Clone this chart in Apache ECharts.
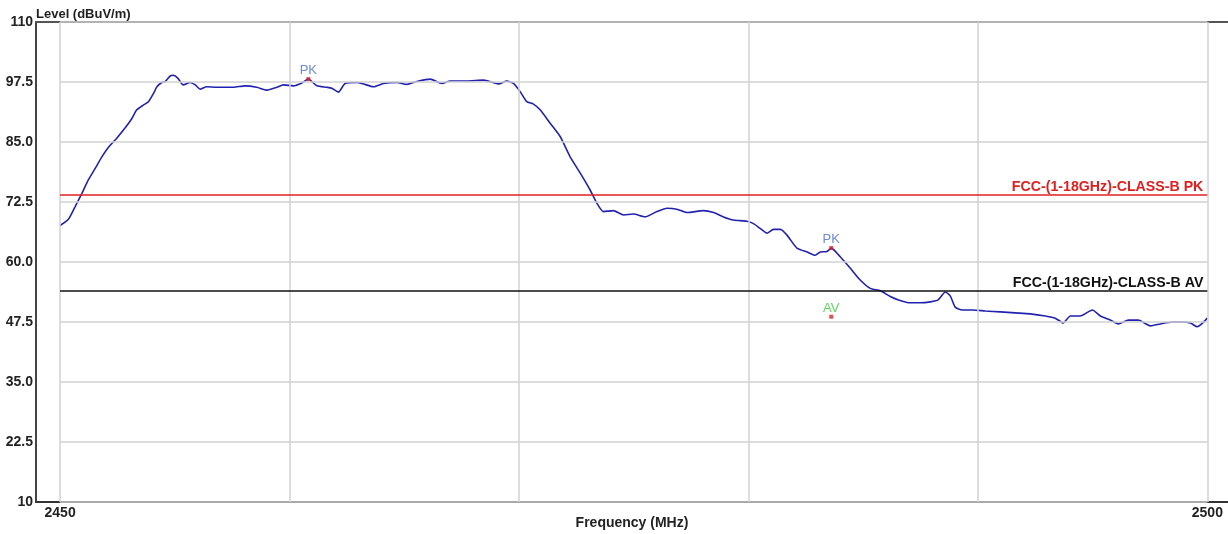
<!DOCTYPE html>
<html>
<head>
<meta charset="utf-8">
<script src="https://cdn.jsdelivr.net/npm/echarts@6/dist/echarts.min.js"></script>
<style>
html,body{margin:0;padding:0;background:#fff;}
#chart{width:1228px;height:534px;}
</style>
</head>
<body>
<div id="chart"></div>
<script>
// ---- data ----
const freqMHz = [2450.0,2450.36,2450.65,2450.95,2451.23,2451.53,2451.82,2452.11,2452.47,2452.83,2453.13,2453.34,2453.63,2453.85,2454.07,2454.22,2454.43,2454.58,2454.80,2454.94,2455.13,2455.37,2455.67,2455.89,2456.10,2456.39,2456.83,2457.55,2458.06,2458.57,2459.01,2459.45,2459.73,2460.17,2460.54,2460.82,2461.19,2461.63,2461.84,2462.13,2462.42,2462.93,2463.22,2463.66,2464.09,2464.68,2465.11,2465.55,2466.13,2466.64,2467.00,2467.73,2468.45,2469.11,2469.47,2469.76,2470.05,2470.34,2470.63,2470.92,2471.36,2471.80,2472.23,2472.67,2473.10,2473.40,2473.68,2474.11,2474.56,2474.99,2475.50,2476.01,2476.45,2476.88,2477.32,2478.04,2478.48,2478.91,2479.35,2479.93,2480.22,2480.51,2480.81,2481.09,2481.39,2481.68,2482.11,2482.55,2482.91,2483.13,2483.42,2483.61,2484.00,2484.44,2484.87,2485.31,2485.75,2486.18,2486.54,2487.05,2487.49,2487.93,2488.27,2488.58,2488.80,2489.01,2489.32,2489.76,2490.32,2490.98,2491.63,2492.28,2492.94,2493.37,2493.72,2494.03,2494.46,2494.99,2495.34,2495.77,2496.12,2496.56,2496.99,2497.52,2497.95,2498.47,2498.89,2499.26,2499.56,2500.0];
const levelDb = [67.6,68.9,71.5,74.3,77.1,79.5,81.9,83.9,85.8,87.9,89.9,91.7,92.7,93.4,95.1,96.5,97.4,97.6,98.75,98.9,98.3,96.9,97.4,96.9,96.0,96.5,96.4,96.4,96.7,96.4,95.8,96.4,96.9,96.7,97.3,98.1,96.7,96.4,96.2,95.4,97.2,97.4,97.1,96.5,97.2,97.4,97.0,97.6,98.1,97.2,97.7,97.7,97.9,97.1,97.7,97.2,95.5,93.4,92.9,91.7,88.9,86.1,81.9,78.5,75.0,72.2,70.5,70.7,69.8,70.0,69.4,70.5,71.2,71.0,70.3,70.7,70.3,69.4,68.75,68.5,68.0,67.0,66.0,66.8,66.8,65.6,62.9,62.1,61.4,62.1,62.2,62.9,61.1,58.7,56.25,54.5,54.0,52.8,52.1,51.5,51.5,51.7,52.1,53.75,52.9,50.6,50.0,50.0,49.8,49.6,49.4,49.2,48.75,48.3,47.3,48.75,48.75,50.0,48.75,47.9,47.1,47.9,47.9,46.7,47.1,47.5,47.5,47.3,46.5,48.3];

const yTicks = [10, 22.5, 35, 47.5, 60, 72.5, 85, 97.5, 110];
const xGridTicks = [2450, 2460, 2470, 2480, 2490, 2500];
const xLabelTicks = [2450, 2500];
const limitRange = [2450, 2500];
const pkLimit = 74;
const avLimit = 54;
const pkLimitName = 'FCC-(1-18GHz)-CLASS-B PK';
const avLimitName = 'FCC-(1-18GHz)-CLASS-B AV';
const pkMarkers = [[2460.82, 98.1], [2483.61, 62.9]];
const avMarkers = [[2483.61, 48.6]];

// ---- chart ----
const FONT = '"Liberation Sans", Arial, sans-serif';
const chart = echarts.init(document.getElementById('chart'), null, {renderer: 'canvas'});

const curve = freqMHz.map((f, i) => [f, levelDb[i]]);
const gridColor = '#d2d2d2';
const gridLines = [];
yTicks.forEach(v => gridLines.push([{coord: [limitRange[0], v]}, {coord: [limitRange[1], v]}]));
xGridTicks.forEach(f => gridLines.push([{coord: [f, yTicks[0]]}, {coord: [f, yTicks[yTicks.length - 1]]}]));

function limitSeries(name, value, color) {
  return {
    name: name,
    type: 'line',
    z: 2,
    symbol: 'none',
    silent: true,
    data: [],
    markLine: {
      silent: true,
      symbol: ['none', 'none'],
      lineStyle: {color: color, width: 1.5, type: 'solid'},
      label: {
        show: true,
        position: 'insideEndTop',
        formatter: name,
        color: color,
        fontFamily: FONT,
        fontWeight: 'bold',
        fontSize: 14.2,
        distance: [4, 1]
      },
      data: [[{coord: [limitRange[0], value]}, {coord: [limitRange[1], value]}]]
    }
  };
}

const option = {
  animation: false,
  backgroundColor: '#ffffff',
  grid: {left: 36, right: 0, top: 22, bottom: 32, containLabel: false, outerBoundsMode: 'none'},
  xAxis: [{
    type: 'value',
    min: 2448.95,
    max: 2500.9,
    name: 'Frequency (MHz)',
    nameLocation: 'middle',
    nameGap: 14,
    nameMoveOverlap: false,
    nameTextStyle: {fontFamily: FONT, fontWeight: 'bold', fontSize: 14, color: '#222'},
    axisLine: {show: true, onZero: false, lineStyle: {color: '#333', width: 2}},
    axisTick: {show: false},
    splitLine: {show: false},
    axisLabel: {
      customValues: xLabelTicks,
      margin: 4,
      fontFamily: FONT, fontWeight: 'bold', fontSize: 14, color: '#222',
      formatter: v => String(v)
    }
  }, {
    type: 'value',
    position: 'top',
    min: 2448.95,
    max: 2500.9,
    axisLine: {show: true, onZero: false, lineStyle: {color: '#555', width: 2}},
    axisTick: {show: false},
    axisLabel: {show: false},
    splitLine: {show: false}
  }],
  yAxis: {
    type: 'value',
    min: 10,
    max: 110,
    interval: 12.5,
    name: 'Level (dBuV/m)',
    nameLocation: 'end',
    nameGap: 1,
    nameMoveOverlap: false,
    nameTextStyle: {fontFamily: FONT, fontWeight: 'bold', fontSize: 13, color: '#222', align: 'left', verticalAlign: 'bottom'},
    axisLine: {show: true, lineStyle: {color: '#444', width: 2}},
    axisTick: {show: false},
    splitLine: {show: false},
    axisLabel: {
      margin: 3,
      fontFamily: FONT, fontWeight: 'bold', fontSize: 14, color: '#222',
      formatter: v => (v === 10 || v === 110) ? String(v) : v.toFixed(1)
    }
  },
  series: [
    {
      name: 'grid',
      type: 'line',
      z: 1,
      silent: true,
      data: [],
      markLine: {
        silent: true,
        symbol: ['none', 'none'],
        label: {show: false},
        lineStyle: {color: gridColor, width: 1.5, type: 'solid'},
        data: gridLines
      }
    },
    limitSeries(pkLimitName, pkLimit, '#e02020'),
    limitSeries(avLimitName, avLimit, '#111111'),
    {
      name: 'Level',
      type: 'line',
      z: 3,
      symbol: 'none',
      smooth: 0.2,
      data: curve,
      lineStyle: {color: '#2222b0', width: 1.6}
    },
    {
      name: 'PK',
      type: 'scatter',
      z: 4,
      symbol: 'rect',
      symbolSize: 4,
      itemStyle: {color: '#e02020'},
      data: pkMarkers,
      label: {show: true, position: 'top', distance: 0, formatter: 'PK', color: '#4a6fc8', fontFamily: FONT, fontSize: 13}
    },
    {
      name: 'AV',
      type: 'scatter',
      z: 4,
      symbol: 'rect',
      symbolSize: 4,
      itemStyle: {color: '#e02020'},
      data: avMarkers,
      label: {show: true, position: 'top', distance: 0, formatter: 'AV', color: '#33cc33', fontFamily: FONT, fontSize: 13}
    }
  ]
};
chart.setOption(option);
</script>
</body>
</html>
